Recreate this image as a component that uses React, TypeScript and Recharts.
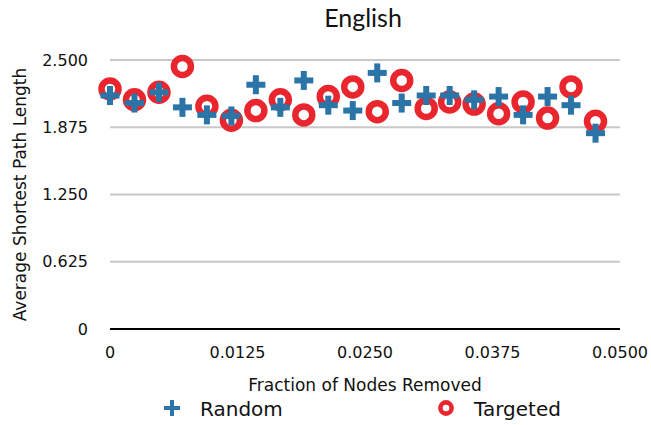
import React from "react";
import {
  ScatterChart,
  Scatter,
  XAxis,
  YAxis,
  CartesianGrid,
  Legend,
} from "recharts";

const xValues = [
  0, 0.0024, 0.0048, 0.0071, 0.0095, 0.0119, 0.0143, 0.0167, 0.019, 0.0214,
  0.0238, 0.0262, 0.0286, 0.031, 0.0333, 0.0357, 0.0381, 0.0405, 0.0429,
  0.0452, 0.0476,
];
const randomValues = [
  2.17, 2.1, 2.2, 2.06, 1.99, 1.98, 2.27, 2.06, 2.31, 2.08, 2.03, 2.38, 2.1,
  2.17, 2.17, 2.13, 2.16, 1.99, 2.16, 2.08, 1.82,
];
const targetedValues = [
  2.23, 2.13, 2.2, 2.44, 2.07, 1.94, 2.03, 2.13, 1.99, 2.16, 2.25, 2.02, 2.31,
  2.05, 2.11, 2.09, 2.0, 2.11, 1.96, 2.25, 1.93,
];

const xTicks = [0, 0.0125, 0.025, 0.0375, 0.05];
const xTickLabels = ["0", "0.0125", "0.0250", "0.0375", "0.0500"];
const yTicks = [0, 0.625, 1.25, 1.875, 2.5];
const yTickLabels = ["0", "0.625", "1.250", "1.875", "2.500"];

const BLUE = "#2b74a8";
const RED = "#e9262e";
const FONT = "'DejaVu Sans', sans-serif";

const randomData = xValues.map((x, i) => ({ x, y: randomValues[i] }));
const targetedData = xValues.map((x, i) => ({ x, y: targetedValues[i] }));

function Plus({ cx, cy, size = 19, thick = 6 }: any) {
  if (cx == null || cy == null) return null;
  const h = size / 2;
  const t = thick / 2;
  return (
    <g fill={BLUE}>
      <rect x={cx - h} y={cy - t} width={size} height={thick} />
      <rect x={cx - t} y={cy - h} width={thick} height={size} />
    </g>
  );
}

function Ring({ cx, cy, r = 8.5, sw = 6.5 }: any) {
  if (cx == null || cy == null) return null;
  return <circle cx={cx} cy={cy} r={r} fill="none" stroke={RED} strokeWidth={sw} />;
}

function LegendContent() {
  return (
    <svg width={651} height={28}>
      <Plus cx={172} cy={13} size={16} thick={4} />
      <text x={200} y={21} fontFamily={FONT} fontSize={20} fill="#111">
        Random
      </text>
      <Ring cx={446} cy={13} r={5.6} sw={4.6} />
      <text x={474} y={21} fontFamily={FONT} fontSize={20} fill="#111">
        Targeted
      </text>
    </svg>
  );
}

function YLabel(props: any) {
  const vb = props.viewBox || { x: 10, y: 60, width: 100, height: 269 };
  const x = vb.x + 15.5;
  const y = vb.y + vb.height / 2;
  return (
    <text
      x={x}
      y={y}
      transform={`rotate(-90, ${x}, ${y})`}
      textAnchor="middle"
      fontFamily={FONT}
      fontSize={17}
      fill="#111"
    >
      Average Shortest Path Length
    </text>
  );
}

export default function App() {
  return (
    <div style={{ position: "absolute", left: 0, top: 0, width: 651, height: 425, background: "#fff" }}>
      <div
        style={{
          position: "absolute",
          top: 5,
          left: 0,
          width: 726,
          textAlign: "center",
          fontFamily: "Lato, sans-serif",
          fontSize: 25,
          lineHeight: "25px",
          color: "#111",
        }}
      >
        English
      </div>
      <ScatterChart
        width={651}
        height={425}
        margin={{ top: 60, right: 31, left: 10, bottom: 66 }}
      >
        <CartesianGrid
          horizontal={true}
          vertical={false}
          stroke="#c8c8c8"
          strokeWidth={2}
          horizontalValues={[0.625, 1.25, 1.875, 2.5]}
        />
        <XAxis
          type="number"
          dataKey="x"
          domain={[0, 0.05]}
          ticks={xTicks}
          interval={0}
          tickFormatter={(v: number, i: number) => xTickLabels[i]}
          tickLine={false}
          tickSize={0}
          tickMargin={18}
          height={30}
          axisLine={{ stroke: "#000", strokeWidth: 2 }}
          tick={{ fontFamily: FONT, fontSize: 16, fill: "#111" }}
          label={{
            value: "Fraction of Nodes Removed",
            position: "insideBottom",
            offset: -32,
            fontFamily: FONT,
            fontSize: 17,
            fill: "#111",
          }}
        />
        <YAxis
          type="number"
          dataKey="y"
          domain={[0, 2.5]}
          ticks={yTicks}
          interval={0}
          tickFormatter={(v: number, i: number) => yTickLabels[i]}
          tickLine={false}
          tickSize={0}
          tickMargin={22}
          axisLine={false}
          width={100}
          tick={{ fontFamily: FONT, fontSize: 16, fill: "#111" }}
          label={{ content: (p: any) => <YLabel {...p} /> }}
        />
        <Legend
          verticalAlign="middle"
          layout="horizontal"
          wrapperStyle={{ top: 395, left: 0, width: 651, height: 28 }}
          content={() => <LegendContent />}
        />
        <Scatter
          name="Targeted"
          data={targetedData}
          isAnimationActive={false}
          shape={(p: any) => <Ring cx={p.cx} cy={p.cy} />}
        />
        <Scatter
          name="Random"
          data={randomData}
          isAnimationActive={false}
          shape={(p: any) => <Plus cx={p.cx} cy={p.cy} />}
        />
      </ScatterChart>
    </div>
  );
}
